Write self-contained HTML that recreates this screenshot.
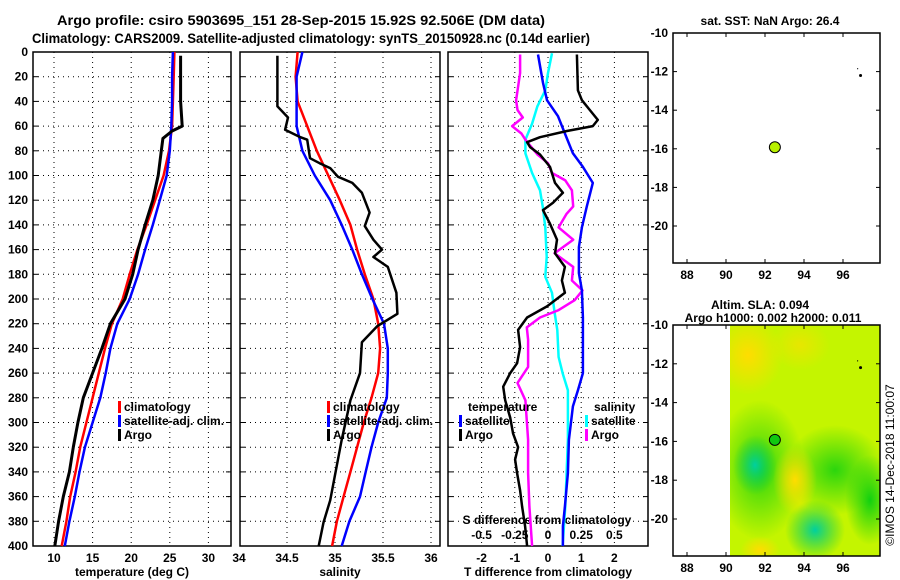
<!DOCTYPE html>
<html><head><meta charset="utf-8">
<style>
body{margin:0;background:#fff;}
svg{display:block;font-family:"Liberation Sans",sans-serif;font-weight:bold;}
</style></head>
<body>
<svg id="chart" width="900" height="580" viewBox="0 0 900 580">
<defs>
<radialGradient id="gy" cx="50%" cy="50%" r="50%"><stop offset="0" stop-color="#ffdd00"/><stop offset="1" stop-color="#ffdd00" stop-opacity="0"/></radialGradient>
<radialGradient id="gg" cx="50%" cy="50%" r="50%"><stop offset="0" stop-color="#00c850"/><stop offset="1" stop-color="#00d000" stop-opacity="0"/></radialGradient>
<radialGradient id="gt" cx="50%" cy="50%" r="50%"><stop offset="0" stop-color="#00d0a0"/><stop offset="1" stop-color="#00c840" stop-opacity="0"/></radialGradient>
<radialGradient id="gd" cx="50%" cy="50%" r="50%"><stop offset="0" stop-color="#10d010"/><stop offset="1" stop-color="#10d010" stop-opacity="0"/></radialGradient>
<clipPath id="mapclip"><rect x="730" y="325" width="150" height="230"/></clipPath>
</defs>
</svg>
<script>
// ---- data ----
const depthTicks=[0,20,40,60,80,100,120,140,160,180,200,220,240,260,280,300,320,340,360,380,400];
const tTicks=[10,15,20,25,30];
const sTicks=[34,34.5,35,35.5,36];
const sTickLabels=["34","34.5","35","35.5","36"];
const dTTicks=[-2,-1,0,1,2];
const dSTicks=[-0.5,-0.25,0,0.25,0.5];
const dSTickLabels=["-0.5","-0.25","0","0.25","0.5"];
const latTicks=[-10,-12,-14,-16,-18,-20];
const lonTicks=[88,90,92,94,96];

const climDepth=[0,20,40,60,80,100,120,140,160,180,200,220,240,260,280,300,320,340,360,380,400];
const climT=[25.6,25.5,25.4,25.3,24.9,24.2,23.1,22.0,20.8,19.8,18.9,17.5,16.6,15.8,15.0,14.2,13.4,12.8,12.1,11.6,11.0];
const satT=[25.4,25.3,25.3,25.2,25.0,24.6,23.7,22.8,21.8,20.9,19.8,18.2,17.3,16.7,16.0,15.0,14.0,13.3,12.7,12.0,11.4];
const argoDepth=[3,20,40,60,64,70,80,100,120,140,160,180,200,220,240,260,280,300,320,340,360,380,400];
const argoT=[26.4,26.4,26.4,26.6,25.3,24.1,23.9,23.5,22.8,21.8,20.9,20.2,19.2,17.3,16.2,15.0,13.8,13.1,12.5,12.0,11.2,10.6,10.1];

const climS=[34.61,34.59,34.61,34.71,34.81,34.93,35.05,35.16,35.23,35.31,35.40,35.45,35.47,35.45,35.38,35.30,35.23,35.16,35.09,35.02,34.97];
const satS=[34.66,34.60,34.60,34.60,34.66,34.79,34.95,35.07,35.18,35.28,35.39,35.51,35.55,35.55,35.54,35.45,35.38,35.32,35.26,35.15,35.07];
const argoSDepth=[3,44,53,63,69,71,86,90,94,101,106,114,130,141,152,160,166,174,195,212,222,235,260,282,314,363,381,400];
const argoS=[34.40,34.40,34.51,34.48,34.64,34.71,34.74,34.84,34.95,35.03,35.18,35.28,35.36,35.31,35.40,35.49,35.40,35.55,35.64,35.65,35.44,35.28,35.26,35.16,35.07,34.95,34.88,34.83];

const dArgoTDepth=[2,31,39,47,55,60,64,69,73,77,83,93,106,114,122,128,139,152,163,174,185,195,206,215,225,239,252,260,271,282,296,309,320,330,341,355,368,384,400];
const dArgoT=[0.87,0.90,1.02,1.26,1.50,1.35,0.57,-0.24,-0.63,-0.54,-0.24,0.06,0.21,0.45,0.15,-0.15,0.06,0.27,0.21,0.51,0.42,0.51,-0.03,-0.63,-0.90,-0.84,-0.93,-1.14,-1.35,-1.29,-1.14,-1.05,-0.90,-0.99,-0.93,-0.84,-0.78,-0.69,-0.63];
const dSatTDepth=[2,25,39,52,66,82,93,106,125,142,158,179,193,215,233,260,274,287,314,341,368,384,400];
const dSatT=[-0.30,-0.15,-0.03,0.30,0.51,0.75,1.05,1.35,1.17,1.02,0.93,0.93,1.02,1.05,1.05,1.05,0.90,0.75,0.63,0.60,0.51,0.45,0.45];
const dSatSDepth=[1,17,31,44,58,71,82,98,112,125,142,166,182,195,211,225,247,260,274,287,314,341,368,400];
const dSatS=[0.03,0.0,-0.02,-0.08,-0.12,-0.17,-0.17,-0.12,-0.06,-0.04,-0.02,-0.01,-0.02,0.03,0.05,0.07,0.08,0.11,0.15,0.15,0.15,0.14,0.13,0.11];
const dArgoSDepth=[2,17,39,47,53,60,66,71,83,90,98,104,112,125,131,142,152,163,174,185,193,201,209,215,223,233,255,268,282,314,341,368,400];
const dArgoS=[-0.21,-0.21,-0.24,-0.23,-0.19,-0.27,-0.20,-0.17,-0.08,0.0,0.03,0.13,0.18,0.19,0.14,0.08,0.19,0.05,0.19,0.18,0.26,0.20,0.08,-0.06,-0.16,-0.15,-0.15,-0.23,-0.17,-0.15,-0.15,-0.14,-0.12];

const argoLon=92.506, argoLat=-15.92;

// ---- axes ----
const Y0=52, YK=1.235;
const yD=d=>Y0+d*YK;
const xT=t=>54+(t-10)*7.72;
const xS=s=>335+(s-35)*96;
const xDT=v=>548+v*33.2;
const xDS=v=>548+v*132.8;
const mX=lon=>687+(lon-88)*19.5;
const mY1=lat=>33+(-10-lat)*19.3;
const mY2=lat=>325+(-10-lat)*19.4;

const svg=document.getElementById('chart');
const NS='http://www.w3.org/2000/svg';
function mk(tag,attrs,parent){const e=document.createElementNS(NS,tag);for(const k in attrs)e.setAttribute(k,attrs[k]);(parent||svg).appendChild(e);return e;}
function txt(x,y,s,size,anchor,parent){const t=mk('text',{x:x,y:y,'font-size':size||12,'text-anchor':anchor||'middle'},parent);t.textContent=s;return t;}

// titles
let t1=txt(57,25,'Argo profile: csiro 5903695_151 28-Sep-2015 15.92S 92.506E (DM data)',13.5,'start');
t1.setAttribute('textLength','488');
t1.setAttribute('lengthAdjust','spacingAndGlyphs');


let t2=txt(32,43,'Climatology: CARS2009. Satellite-adjusted climatology: synTS_20150928.nc (0.14d earlier)',13.5,'start');
t2.setAttribute('textLength','558');
t2.setAttribute('lengthAdjust','spacingAndGlyphs');



function panel(name,x0,x1,xticks,xfn,labels,xlabel){
  const g=mk('g',{});
  
  
  mk('rect',{x:x0,y:Y0,width:x1-x0,height:yD(400)-Y0,fill:'#fff',stroke:'#000','stroke-width':1.5},g);
  depthTicks.forEach(d=>{ if(d>0&&d<400){
    mk('line',{x1:x0,x2:x1,y1:yD(d),y2:yD(d),stroke:'#000','stroke-width':1,'stroke-dasharray':'1 4'},g);
    mk('line',{x1:x0,x2:x0+5,y1:yD(d),y2:yD(d),stroke:'#000'},g);
    mk('line',{x1:x1-5,x2:x1,y1:yD(d),y2:yD(d),stroke:'#000'},g);}});
  xticks.forEach((v,i)=>{const x=xfn(v); if(x>x0+2&&x<x1-2){
    mk('line',{x1:x,x2:x,y1:Y0,y2:yD(400),stroke:'#000','stroke-width':1,'stroke-dasharray':'1 4'},g);}
    if(labels){const l=txt(x,562,labels[i],12,'middle',g);
      
      }});
  const xl=txt((x0+x1)/2,576,xlabel,12,'middle',g);
  
  
  return g;
}
const p1=panel('temperature-panel',33,231,tTicks,xT,tTicks.map(String),'temperature (deg C)');
const p2=panel('salinity-panel',240,440,sTicks,xS,sTickLabels,'salinity');
const p3=panel('difference-panel',448,648,dTTicks,xDT,dTTicks.map(String),'T difference from climatology');
depthTicks.forEach(d=>{const l=txt(28,yD(d)+4,String(d),12,'end');
  
  });
dSTicks.forEach((v,i)=>{const l=txt(xDS(v),539,dSTickLabels[i],12,'middle',p3);
  
  });
const sdl=txt(547,524,'S difference from climatology',12,'middle',p3);



function line(parent,xs,ds,xfn,color,name,w){
  const pts=xs.map((v,i)=>xfn(v).toFixed(1)+','+yD(ds[i]).toFixed(1)).join(' ');
  const p=mk('polyline',{points:pts,fill:'none',stroke:color,'stroke-width':w||2.5,'stroke-linejoin':'round'},parent);
  
  
}
line(p1,climT,climDepth,xT,'#ff0000','climatology-temperature-line');
line(p1,satT,climDepth,xT,'#0000ff','satellite-temperature-line');
line(p1,argoT,argoDepth,xT,'#000000','argo-temperature-line',3);
line(p2,climS,climDepth,xS,'#ff0000','climatology-salinity-line');
line(p2,satS,climDepth,xS,'#0000ff','satellite-salinity-line');
line(p2,argoS,argoSDepth,xS,'#000000','argo-salinity-line');
line(p3,dSatS,dSatSDepth,xDS,'#00ffff','salinity-satellite-diff-line');
line(p3,dArgoS,dArgoSDepth,xDS,'#ff00ff','salinity-argo-diff-line');
line(p3,dSatT,dSatTDepth,xDT,'#0000ff','temperature-satellite-diff-line');
line(p3,dArgoT,dArgoTDepth,xDT,'#000000','temperature-argo-diff-line');

function legendEntry(parent,x,y,color,label){
  const g=mk('g',{},parent);
  
  
  mk('rect',{x:x,y:y-10,width:3,height:12,fill:color},g);
  txt(x+6,y,label,12,'start',g);
}
legendEntry(p1,118,411,'#ff0000','climatology');
legendEntry(p1,118,425,'#0000ff','satellite-adj. clim.');
legendEntry(p1,118,439,'#000000','Argo');
legendEntry(p2,327,411,'#ff0000','climatology');
legendEntry(p2,327,425,'#0000ff','satellite-adj. clim.');
legendEntry(p2,327,439,'#000000','Argo');
txt(468,411,'temperature',12,'start',p3);
legendEntry(p3,459,425,'#0000ff','satellite');
legendEntry(p3,459,439,'#000000','Argo');
txt(594,411,'salinity',12,'start',p3);
legendEntry(p3,585,425,'#00ffff','satellite');
legendEntry(p3,585,439,'#ff00ff','Argo');

// maps
function map(name,top,bottom,yfn,title,title2,field){
  const g=mk('g',{});
  
  
  if(field){
    mk('rect',{x:730,y:top,width:150,height:bottom-top,fill:'#c4f500'},g);
    const f=mk('g',{'clip-path':'url(#mapclip)'},g);
    mk('ellipse',{cx:748,cy:355,rx:35,ry:40,fill:'url(#gy)'},f);
    mk('ellipse',{cx:800,cy:345,rx:30,ry:25,fill:'url(#gy)','opacity':0.6},f);
    mk('ellipse',{cx:760,cy:470,rx:45,ry:70,fill:'url(#gd)','opacity':0.85},f);
    mk('ellipse',{cx:755,cy:465,rx:22,ry:30,fill:'url(#gt)'},f);
    mk('ellipse',{cx:835,cy:470,rx:50,ry:45,fill:'url(#gd)','opacity':0.85},f);
    mk('ellipse',{cx:815,cy:530,rx:30,ry:30,fill:'url(#gt)'},f);
    mk('ellipse',{cx:870,cy:500,rx:25,ry:45,fill:'url(#gd)'},f);
    mk('ellipse',{cx:795,cy:480,rx:22,ry:35,fill:'url(#gy)'},f);
    mk('ellipse',{cx:760,cy:550,rx:20,ry:14,fill:'url(#gy)'},f);
  }
  mk('rect',{x:673,y:top,width:207,height:bottom-top,fill:'none',stroke:'#000','stroke-width':1.5},g);
  latTicks.forEach(v=>{const y=yfn(v);
    mk('line',{x1:673,x2:677,y1:y,y2:y,stroke:'#000'},g);
    mk('line',{x1:876,x2:880,y1:y,y2:y,stroke:'#000'},g);
    const l=txt(668,y+4,String(v),12,'end',g);
    
    });
  lonTicks.forEach(v=>{const x=mX(v);
    mk('line',{x1:x,x2:x,y1:top,y2:top+4,stroke:'#000'},g);
    mk('line',{x1:x,x2:x,y1:bottom-4,y2:bottom,stroke:'#000'},g);
    const l=txt(x,bottom+16,String(v),12,'middle',g);
    
    });
  txt(title2?760:770,title2?top-16:top-8,title,12,'middle',g);
  if(title2) txt(773,top-3,title2,12,'middle',g);
  mk('circle',{cx:mX(96.9),cy:yfn(-12.2),r:1.5,fill:'#000'},g);
  mk('circle',{cx:mX(96.75),cy:yfn(-11.85),r:0.6,fill:'#000'},g);
  const dot=mk('circle',{cx:mX(argoLon),cy:yfn(argoLat),r:5.5,fill:field?'#10c810':'#b8f000',stroke:'#000','stroke-width':1},g);
  
  
}
map('sst-map',33,263,mY1,'sat. SST: NaN Argo: 26.4',null,false);
map('sla-map',325,556,mY2,'Altim. SLA: 0.094','Argo h1000: 0.002 h2000: 0.011',true);

const cr=txt(0,0,'©IMOS 14-Dec-2018 11:00:07',12,'middle');
cr.setAttribute('transform','translate(894,465) rotate(-90)');
cr.setAttribute('font-weight','normal');


</script>
</body></html>
